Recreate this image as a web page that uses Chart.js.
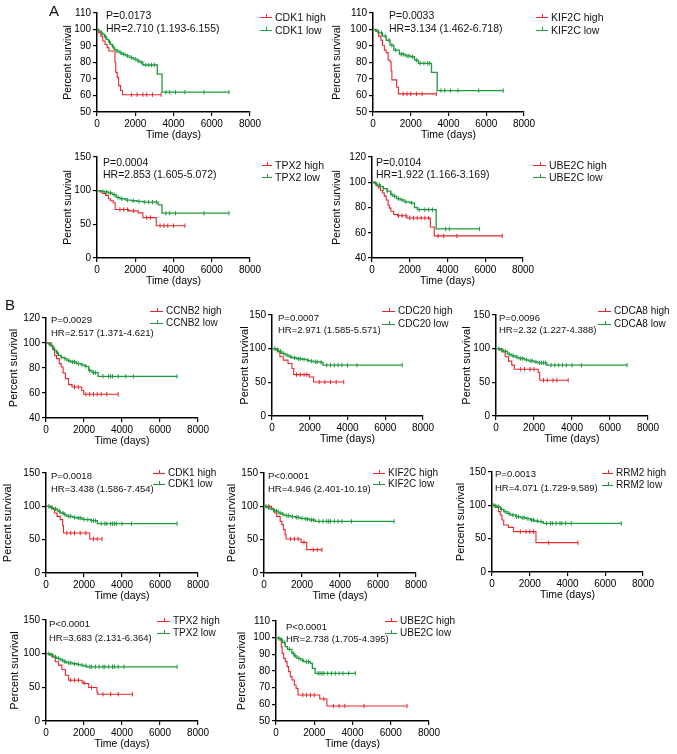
<!DOCTYPE html>
<html>
<head>
<meta charset="utf-8">
<script src="https://cdn.jsdelivr.net/npm/chart.js@4.4.1/dist/chart.umd.min.js"></script>
<style>
html, body { margin: 0; padding: 0; background: #fff; }
#fig { position: relative; width: 677px; height: 754px; overflow: hidden; font-family: 'Liberation Sans', Arial, sans-serif; color: #111; }
#fig canvas { position: absolute; }
.txt { position: absolute; white-space: nowrap; line-height: 12px; }
.mk { position: absolute; height: 0; border-top-width: 1.5px; border-top-style: solid; }
.mk::after { content: ''; position: absolute; left: 50%; top: -4px; width: 0; height: 3px; border-left-width: 1.2px; border-left-style: solid; border-left-color: inherit; }
.letter { position: absolute; font-size: 15px; line-height: 16px; }
</style>
</head>
<body>
<div id="fig"></div>
<script>
// ---- text of each panel ----
const genes = ['CDK1', 'KIF2C', 'TPX2', 'UBE2C', 'CCNB2', 'CDC20', 'CDCA8', 'CDK1', 'KIF2C', 'RRM2', 'TPX2', 'UBE2C'];
const pValues = ['P=0.0173', 'P=0.0033', 'P=0.0004', 'P=0.0104', 'P=0.0029', 'P=0.0007', 'P=0.0096',
                 'P=0.0018', 'P<0.0001', 'P=0.0013', 'P<0.0001', 'P<0.0001'];
const hrValues = ['HR=2.710 (1.193-6.155)', 'HR=3.134 (1.462-6.718)', 'HR=2.853 (1.605-5.072)', 'HR=1.922 (1.166-3.169)',
                  'HR=2.517 (1.371-4.621)', 'HR=2.971 (1.585-5.571)', 'HR=2.32 (1.227-4.388)', 'HR=3.438 (1.586-7.454)',
                  'HR=4.946 (2.401-10.19)', 'HR=4.071 (1.729-9.589)', 'HR=3.683 (2.131-6.364)', 'HR=2.738 (1.705-4.395)'];

// ---- y axis tick ranges ----
const yMins  = [50, 50, 0, 40, 40, 0, 0, 0, 0, 0, 0, 50];
const yMaxs  = [110, 110, 150, 120, 120, 150, 150, 150, 150, 150, 150, 110];
const ySteps = [10, 10, 50, 20, 20, 50, 50, 50, 50, 50, 50, 10];
const xTicks = [0, 2000, 4000, 6000, 8000];

// ---- survival curves: [time (days), percent survival after the step]; censored times ----
const aCdk1High = [[0,100],[80,98],[200,96],[300,93],[420,91],[530,89],[620,87],[940,80],[980,74],[1060,71],[1130,66],[1230,63],[1330,60.5]];
const aCdk1HighCens = [1800, 2100, 2400, 2600, 2900, 3350];
const aCdk1Low = [[0,100],[100,99],[200,98],[300,97],[400,95.5],[500,94],[600,92.5],[700,91],[800,89.5],[900,88],[1000,87],[1150,86],[1300,85],[1500,84],[1700,83],[1900,82],[2100,81],[2250,80],[2400,78.5],[3150,73],[3400,62]];
const aCdk1LowCens = [250, 450, 650, 850, 1050, 1250, 1400, 1600, 1800, 2000, 2150, 2350, 2550, 2700, 2850, 3000, 3600, 3800, 4100, 4600, 5600, 6900];

const aKif2cHigh = [[0,100],[150,99],[300,96],[420,93.5],[500,90.5],[600,87.5],[700,86],[800,81.5],[900,80.5],[960,75],[1000,69.5],[1250,65],[1350,61]];
const aKif2cHighCens = [1600, 1800, 2000, 2300, 2600, 3350];
const aKif2cLow = [[0,100],[150,99],[300,98],[500,96],[700,93.5],[900,90.5],[1100,87.5],[1400,85],[1700,84],[2000,83.5],[2200,81.5],[2400,79.5],[3100,74],[3400,63]];
const aKif2cLowCens = [250, 450, 650, 850, 1000, 1200, 1500, 1600, 1800, 1900, 2100, 2300, 2500, 2700, 2900, 3000, 3600, 3800, 4100, 4500, 5600, 6900];

const aTpx2High = [[0,100],[150,98],[280,96],[450,93],[600,88],[700,85],[850,82],[950,72],[1650,70],[2150,67],[2400,60],[3100,48]];
const aTpx2HighCens = [1200, 1400, 1600, 1900, 2600, 2800, 3300, 3500, 3700, 4000, 4600];
const aTpx2Low = [[0,100],[200,99],[400,98],[600,96.5],[800,94],[1000,90],[1200,88],[1500,86],[1800,85],[2100,84],[2400,83],[3200,79],[3400,66.5]];
const aTpx2LowCens = [300, 500, 700, 900, 1100, 1300, 1600, 1900, 2200, 2500, 2700, 2900, 3100, 3600, 3800, 4100, 5600, 6900];

const aUbe2cHigh = [[0,100],[100,99.4],[250,97],[350,95.5],[450,93.5],[550,91.5],[650,89],[750,86],[850,82],[920,79.5],[1000,77],[1150,74.5],[1350,73.5],[1850,71.7],[3090,64.5],[3300,57.5]];
const aUbe2cHighCens = [1400, 1600, 1800, 2000, 2200, 2400, 2600, 2800, 3000, 3500, 3800, 4500, 6900];
const aUbe2cLow = [[0,100],[150,99],[250,98],[450,96.5],[600,95],[800,93],[1000,90.5],[1100,89],[1300,87],[1500,86],[1700,84.5],[2000,83.7],[2250,80],[2400,78.3],[3400,63]];
const aUbe2cLowCens = [200, 400, 600, 800, 1000, 1200, 1400, 1600, 1800, 2100, 2500, 2800, 3000, 3200, 3900, 4100, 5700];

const bCcnb2High = [[0,100],[300,97],[350,94.7],[450,90],[550,87.5],[700,83.5],[800,80.8],[900,76],[1020,71.5],[1190,66.7],[1370,64.8],[1880,62],[1980,59]];
const bCcnb2HighCens = [1500, 1700, 2100, 2300, 2500, 2700, 2900, 3200, 3800];
const bCcnb2Low = [[0,100],[150,99],[250,98],[350,96],[450,94],[550,92],[650,90],[800,88.5],[950,87.5],[1100,86],[1300,84.8],[1600,83.5],[1850,82.5],[2050,81.3],[2250,78],[2420,76.3],[2740,73.3]];
const bCcnb2LowCens = [200, 400, 600, 800, 1000, 1200, 1400, 1500, 1700, 1900, 2100, 2300, 2500, 2600, 3000, 3300, 3400, 3500, 3800, 4200, 4600, 6900];

const bCdc20High = [[0,100],[320,95],[420,88],[600,83],[850,78],[1060,70.5],[1150,61.5],[1980,58],[2200,50.5]];
const bCdc20HighCens = [1300, 1500, 1700, 1850, 2500, 2800, 3100, 3400, 3800];
const bCdc20Low = [[0,100],[200,98],[350,96],[500,93],[700,90.5],[900,88],[1050,86.5],[1300,85],[1600,84],[1850,82.5],[2000,81.5],[2200,80.5],[2560,79.5],[2700,75.5]];
const bCdc20LowCens = [150, 300, 450, 600, 800, 1000, 1200, 1400, 1500, 1700, 1900, 2100, 2300, 2400, 2600, 2900, 3100, 3300, 3500, 3700, 4000, 4500, 6900];

const bCdca8High = [[0,100],[315,95],[480,88],[660,81.5],[830,75.5],[965,69.5],[2220,64.5],[2300,53]];
const bCdca8HighCens = [1300, 1500, 1800, 2000, 2500, 2700, 3000, 3200, 3800];
const bCdca8Low = [[0,100],[200,98],[400,96],[600,92],[800,89.5],[1000,87.5],[1200,85.4],[1500,83.5],[1700,82],[2000,80.5],[2200,79],[2680,75.5]];
const bCdca8LowCens = [150, 300, 500, 700, 900, 1100, 1300, 1400, 1600, 1800, 1900, 2100, 2300, 2400, 2500, 2600, 2900, 3100, 3300, 3500, 3700, 4000, 4500, 6900];

const bCdk1High = [[0,100],[315,96],[440,90],[580,85],[750,80],[880,71],[920,60],[2300,51]];
const bCdk1HighCens = [1100, 1300, 1500, 1800, 2100, 2500, 2700, 2950];
const bCdk1Low = [[0,100],[200,98],[400,96],[600,93],[750,90],[950,87.5],[1100,85],[1400,83.5],[1600,82.5],[1900,80.5],[2050,80],[2350,78.5],[2700,74]];
const bCdk1LowCens = [150, 300, 500, 700, 900, 1000, 1200, 1300, 1500, 1700, 1800, 2000, 2200, 2400, 2500, 2600, 2900, 3100, 3200, 3400, 3500, 3600, 3700, 4000, 4500, 6900];

const bKif2cHigh = [[0,100],[400,96],[540,90],[670,85],[850,77.5],[940,72.5],[1020,65],[1110,57.5],[1160,51],[1950,46],[2250,35]];
const bKif2cHighCens = [250, 1400, 1600, 1800, 2100, 2600, 2800, 3050];
const bKif2cLow = [[0,100],[150,98],[300,96.5],[400,95],[550,93],[750,90],[950,88],[1100,86],[1400,84.5],[1650,83.5],[1900,82],[2150,81],[2400,79.5],[2700,77.5]];
const bKif2cLowCens = [100, 250, 500, 650, 850, 1000, 1200, 1300, 1500, 1700, 1800, 2000, 2200, 2300, 2500, 2600, 2900, 3100, 3300, 3400, 3500, 3700, 3900, 4100, 4600, 6850];

const bRrm2High = [[0,100],[175,97],[350,90.5],[440,85.5],[530,78],[620,70.5],[870,67],[1140,60.5],[2330,44]];
const bRrm2HighCens = [1500, 1800, 2000, 2200, 3000, 4550];
const bRrm2Low = [[0,100],[150,99],[270,98],[450,94],[620,90.5],[800,88],[970,85.5],[1250,83],[1500,81.5],[1800,80],[2030,78],[2250,76.5],[2460,75.5],[2720,73]];
const bRrm2LowCens = [100, 200, 350, 500, 700, 900, 1100, 1300, 1400, 1600, 1700, 1900, 2100, 2200, 2400, 2600, 2900, 3100, 3200, 3400, 3600, 3700, 3900, 4200, 6850];

const bTpx2High = [[0,100],[315,95],[490,88],[660,83],[840,76.5],[1020,68],[1190,60.6],[1900,56.6],[2060,55.6],[2250,49.7],[2680,43],[2720,39.7]];
const bTpx2HighCens = [1300, 1500, 1700, 2000, 2400, 3000, 3400, 3800, 4550];
const bTpx2Low = [[0,100],[200,98],[400,95],[550,93],[750,90.4],[950,88],[1100,86.4],[1400,85],[1620,84],[1800,83],[1980,82],[2150,80.5]];
const bTpx2LowCens = [150, 300, 500, 650, 850, 1000, 1200, 1300, 1500, 1700, 1900, 2100, 2300, 2400, 2600, 2800, 3000, 3100, 3300, 3500, 3600, 3800, 4100, 6900];

const bUbe2cHigh = [[0,100],[140,99.6],[280,94.6],[320,90.6],[400,87.6],[490,85.6],[580,82.6],[660,79.6],[750,76.6],[840,74.6],[960,71.6],[1050,69.6],[1150,65.6],[2290,63.2],[2660,59]];
const bUbe2cHighCens = [1400, 1600, 1800, 2000, 2500, 3000, 3300, 3600, 4600, 6850];
const bUbe2cLow = [[0,100],[120,99.5],[220,98.6],[350,97],[480,94.6],[600,93],[830,90.6],[950,89],[1090,87.6],[1300,86.5],[1450,85.6],[1800,84.6],[1900,81.6],[2050,78.6]];
const bUbe2cLowCens = [150, 300, 450, 700, 900, 1000, 1200, 1400, 1600, 1700, 2200, 2300, 2400, 2500, 2700, 2900, 3100, 3300, 3500, 3800, 4150];

const highCurves = [aCdk1High, aKif2cHigh, aTpx2High, aUbe2cHigh, bCcnb2High, bCdc20High, bCdca8High, bCdk1High, bKif2cHigh, bRrm2High, bTpx2High, bUbe2cHigh];
const highCens = [aCdk1HighCens, aKif2cHighCens, aTpx2HighCens, aUbe2cHighCens, bCcnb2HighCens, bCdc20HighCens, bCdca8HighCens, bCdk1HighCens, bKif2cHighCens, bRrm2HighCens, bTpx2HighCens, bUbe2cHighCens];
const lowCurves = [aCdk1Low, aKif2cLow, aTpx2Low, aUbe2cLow, bCcnb2Low, bCdc20Low, bCdca8Low, bCdk1Low, bKif2cLow, bRrm2Low, bTpx2Low, bUbe2cLow];
const lowCens = [aCdk1LowCens, aKif2cLowCens, aTpx2LowCens, aUbe2cLowCens, bCcnb2LowCens, bCdc20LowCens, bCdca8LowCens, bCdk1LowCens, bKif2cLowCens, bRrm2LowCens, bTpx2LowCens, bUbe2cLowCens];

// ---- page layout (pixels) ----
// plot box: y-axis x, x of 8000 tick, top tick y, bottom tick y, distance of y title from axis
const boxes = [
  [97, 250, 13, 112, 29], [373, 524, 13, 112, 36], [97, 250, 157, 258, 29], [372, 523, 157, 258, 35],
  [46, 198, 318, 418, 32], [272, 423, 315, 416, 27], [496, 648, 315, 416, 29],
  [46, 198, 473, 573, 38], [264, 416, 473, 573, 32], [492, 643, 472, 572, 31],
  [46, 198, 620, 721, 31], [276, 429, 621, 721, 34]
];
// legend: marker x, text x, y of "high", y of "low"
const legendPos = [
  [260, 275, 17, 30], [536, 551, 17, 30], [262, 275, 165, 177], [533, 549, 165, 177],
  [150, 166, 311, 323], [382, 398, 311, 324], [598, 614, 311, 324],
  [153, 168, 473, 484], [373, 388, 473, 484], [602, 616, 473, 485],
  [157, 173, 621, 633], [385, 400, 621, 633]
];
// annotation: x, y of P line, y of HR line
const notePos = [
  [106, 15, 28], [389, 15, 28], [103, 162, 174], [376, 162, 174],
  [51, 320, 333], [278, 318, 330], [499, 318, 330],
  [51, 476, 489], [268, 476, 489], [495, 474, 488],
  [49, 624, 638], [286, 627, 639]
];

const RED = '#e8262b';
const GREEN = '#1f9a3f';
Chart.defaults.font.family = "'Liberation Sans', Arial, sans-serif";
Chart.defaults.color = '#000';

const fig = document.getElementById('fig');

function buildPoints(steps, cens) {
  const pts = steps.map(s => ({x: s[0], y: s[1], c: 0}));
  cens.forEach(t => {
    let y = steps[0][1];
    steps.forEach(s => { if (s[0] <= t) y = s[1]; });
    pts.push({x: t, y: y, c: 1});
  });
  pts.sort((a, b) => (a.x - b.x) || (a.c - b.c));
  return pts;
}

function curve(steps, cens, color, width) {
  return {
    data: buildPoints(steps, cens),
    borderColor: color,
    backgroundColor: color,
    borderWidth: width,
    stepped: true,
    fill: false,
    pointStyle: 'line',
    pointRotation: 90,
    pointBorderColor: color,
    pointBorderWidth: 1,
    pointRadius: ctx => (ctx.raw && ctx.raw.c) ? 2.2 : 0,
    pointHoverRadius: 0,
    clip: false
  };
}

function addText(text, x, y, size, cls) {
  const d = document.createElement('div');
  d.className = cls || 'txt';
  d.textContent = text;
  d.style.left = x + 'px';
  d.style.top = y + 'px';
  d.style.fontSize = size + 'px';
  fig.appendChild(d);
}

function addMarker(x1, x2, y, color) {
  const d = document.createElement('div');
  d.className = 'mk';
  d.style.left = x1 + 'px';
  d.style.width = (x2 - x1) + 'px';
  d.style.top = y + 'px';
  d.style.borderColor = color;
  fig.appendChild(d);
}

function makePlot(i) {
  const [left, right, top, bottom, tOff] = boxes[i];
  const isA = i < 4;
  const yTitleSize = isA ? 10.5 : 11;
  const padTop = 8, padRight = 16, hx = 29;
  const wy = Math.round(tOff + yTitleSize * 0.6);
  const cv = document.createElement('canvas');
  cv.width = wy + (right - left) + padRight;
  cv.height = padTop + (bottom - top) + hx;
  cv.style.left = (left - wy) + 'px';
  cv.style.top = (top - padTop) + 'px';
  cv.style.width = cv.width + 'px';
  cv.style.height = cv.height + 'px';
  fig.appendChild(cv);

  const axisBase = {
    border: {display: true, color: '#000', width: 1.5},
    grid: {drawOnChartArea: false, drawTicks: true, tickLength: 4, color: '#000', lineWidth: 1.2},
  };

  new Chart(cv, {
    type: 'line',
    data: {
      datasets: [
        curve(lowCurves[i], lowCens[i], GREEN, 1.3),
        curve(highCurves[i], highCens[i], RED, 1.1)
      ]
    },
    options: {
      responsive: false,
      animation: false,
      devicePixelRatio: 1,
      events: [],
      layout: {padding: {top: padTop, right: padRight, left: 0, bottom: 0}},
      plugins: {legend: {display: false}, tooltip: {enabled: false}},
      scales: {
        x: Object.assign({}, axisBase, {
          type: 'linear',
          min: xTicks[0],
          max: xTicks[xTicks.length - 1],
          afterBuildTicks: s => { s.ticks = xTicks.map(v => ({value: v})); },
          ticks: {color: '#000', font: {size: 10}, padding: 2, autoSkip: false, maxRotation: 0, callback: v => String(v)},
          title: {display: true, text: 'Time (days)', font: {size: 10.5}, padding: 0, color: '#000'},
          afterFit: s => { s.height = hx; s.paddingLeft = 0; s.paddingRight = 0; }
        }),
        y: Object.assign({}, axisBase, {
          type: 'linear',
          min: yMins[i],
          max: yMaxs[i],
          ticks: {stepSize: ySteps[i], color: '#000', font: {size: 10}, padding: 2, autoSkip: false, callback: v => String(v)},
          title: {display: true, text: 'Percent survival', font: {size: yTitleSize}, padding: 0, color: '#000'},
          afterFit: s => { s.width = wy; s.paddingTop = 0; s.paddingBottom = 0; s.paddingLeft = 0; s.paddingRight = 0; }
        })
      }
    }
  });
}

for (let i = 0; i < boxes.length; i++) makePlot(i);

for (let i = 0; i < boxes.length; i++) {
  const isA = i < 4;
  const [nx, py, hy] = notePos[i];
  const noteSize = isA ? 10.5 : 9.5;
  addText(pValues[i], nx, py - 6, noteSize);
  addText(hrValues[i], nx, hy - 6, noteSize);
  const [mx, tx, yh, yl] = legendPos[i];
  const legSize = isA ? 10.5 : 10;
  addMarker(mx, tx - 3, yh, RED);
  addMarker(mx, tx - 3, yl, GREEN);
  addText(genes[i] + ' high', tx, yh - 6, legSize);
  addText(genes[i] + ' low', tx, yl - 6, legSize);
}

addText('A', 49, 3, 15, 'letter');
addText('B', 5, 297, 15, 'letter');
</script>
</body>
</html>
